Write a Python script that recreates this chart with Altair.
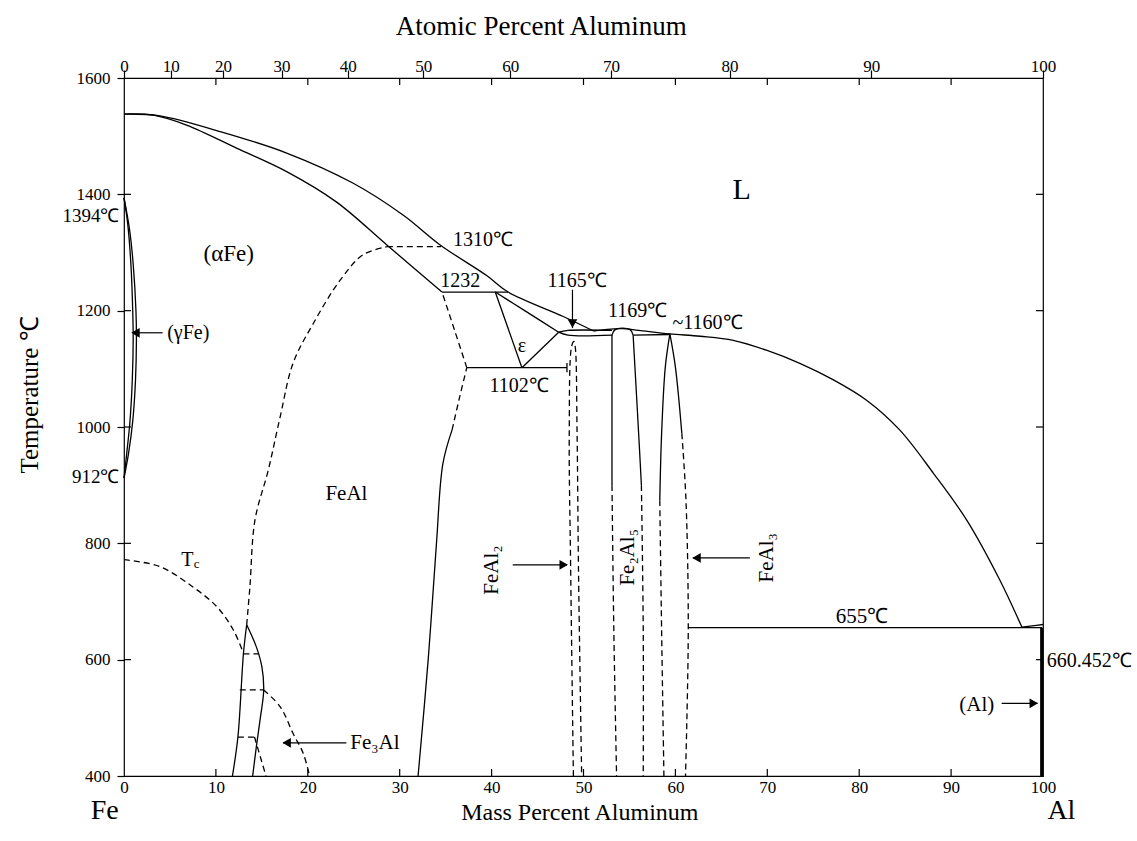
import altair as alt
import pandas as pd

FONT = "Liberation Serif"

# ---------------- axis ticks ----------------
mass_ticks = [0, 10, 20, 30, 40, 50, 60, 70, 80, 90, 100]
temp_ticks = [400, 600, 800, 1000, 1200, 1400, 1600]
inner_mass_ticks = [10, 20, 30, 40, 50, 60, 70, 80, 90]
inner_temp_ticks = [600, 800, 1000, 1200, 1400]
atomic_labels = ["0", "10", "20", "30", "40", "50", "60", "70", "80", "90", "100"]
atomic_at_mass = [0, 5.09, 10.78, 17.15, 24.36, 32.57, 42.02, 52.99, 65.9, 81.3, 100]

# ---------------- solid boundaries (mass % Al, temperature C) ----------------
liq1_m = [0, 3.9, 10.45, 17.7, 24.95, 30.4, 34.4, 39.5, 41.8, 47.8, 51.1]
liq1_T = [1538, 1535, 1508, 1471, 1419, 1364, 1313, 1260, 1232, 1190, 1165]
liq2_m = [51.1, 52.6, 54.2, 56.0, 59.4, 62.7, 66.3, 69.9, 73.6, 77.2, 80.8, 84.4, 88.1, 91.7, 95.3, 97.7]
liq2_T = [1165, 1168, 1169, 1166, 1160, 1156, 1149, 1132, 1109, 1081, 1046, 995, 920, 840, 737, 656]
liq3_m = [97.7, 98.8, 100]
liq3_T = [656, 658, 660.45]
sol_m = [0, 3.2, 6.8, 12.3, 17.7, 23.1, 28.6, 34.6]
sol_T = [1538, 1536, 1519, 1479, 1439, 1387, 1313, 1232]
iso1232_m = [34.6, 41.8]
iso1232_T = [1232, 1232]
epsl_m = [40.4, 43.3]
epsl_T = [1232, 1102]
epst_m = [40.4, 43.6, 47.3]
epst_T = [1232, 1200, 1163]
epsr_m = [43.3, 47.3]
epsr_T = [1102, 1163]
iso1102_m = [37.3, 48.2]
iso1102_T = [1102, 1102]
tick1102_m = [48.2, 48.2]
tick1102_T = [1094, 1110]
iso1165u_m = [47.3, 48.3, 53.1]
iso1165u_T = [1163, 1166, 1166]
iso1165l_m = [47.3, 48.3, 53.1]
iso1165l_T = [1163, 1158, 1158]
iso1160_m = [55.4, 59.4]
iso1160_T = [1158, 1159]
cap_m = [53.1, 53.4, 54.2, 55.1, 55.4]
cap_T = [1158, 1167, 1170, 1167, 1158]
f25l_m = [53.1, 53.1]
f25l_T = [1158, 900]
f25r_m = [55.4, 55.8, 56.1, 56.3]
f25r_T = [1158, 1046, 960, 900]
f3l_m = [59.4, 58.9, 58.5, 58.3]
f3l_T = [1160, 1103, 989, 874]
f3r_m = [59.4, 60.0, 60.7]
f3r_T = [1160, 1103, 989]
eut655_m = [61.4, 99.9]
eut655_T = [655, 655]
gout_m = [0, 0.6, 1.0, 1.3, 1.35, 1.25, 0.95, 0.5, 0]
gout_T = [1394, 1340, 1280, 1200, 1150, 1080, 1010, 955, 912]
gin_m = [0, 0.4, 0.75, 0.95, 1.0, 0.9, 0.65, 0.3, 0]
gin_T = [1394, 1350, 1280, 1200, 1150, 1080, 1010, 955, 912]
fealb_m = [32.0, 33.1, 34.0, 34.7, 35.7]
fealb_T = [400, 600, 800, 937, 995]
fe3all_m = [11.8, 12.4, 13.0, 13.35]
fe3all_T = [400, 468, 611, 660]
fe3alr_m = [13.35, 14.4, 15.0, 15.2, 14.8, 14.4, 14.0]
fe3alr_T = [660, 622, 588, 548, 496, 450, 400]
alsolvus_m = [99.85, 99.85]
alsolvus_T = [655, 400]

# ---------------- dashed boundaries ----------------
dome_m = [13.35, 13.7, 14.25, 15.7, 17.0, 18.4, 20.6, 23.5, 26.0, 28.6]
dome_T = [660, 725, 840, 926, 1018, 1110, 1178, 1252, 1296, 1310]
iso1310_m = [28.6, 34.5]
iso1310_T = [1310, 1310]
fealbd_m = [35.7, 36.5, 37.3]
fealbd_T = [995, 1050, 1102]
epsd_m = [37.3, 36.0, 34.6]
epsd_T = [1102, 1165, 1232]
tcl_m = [0, 3.9, 7.5, 10.1, 11.9, 13.0]
tcl_T = [772, 760, 725, 691, 651, 611]
tcr_m = [15.2, 17.0, 18.4, 19.5, 20.2]
tcr_T = [548, 519, 473, 439, 400]
d610_m = [13.0, 14.7]
d610_T = [610, 610]
d548_m = [12.6, 15.2]
d548_T = [548, 548]
d467_m = [12.4, 14.2]
d467_T = [467, 467]
dlow_m = [14.2, 15.45]
dlow_T = [467, 400]
feal2_m = [48.9, 48.6, 48.45, 48.7, 48.95, 49.1, 49.3, 49.45, 49.8]
feal2_T = [400, 760, 990, 1138, 1147, 1138, 990, 760, 400]
f25ld_m = [53.1, 53.3, 53.6]
f25ld_T = [900, 650, 400]
f25rd_m = [56.3, 56.5, 56.5]
f25rd_T = [900, 650, 400]
f3ld_m = [58.3, 58.5, 58.75]
f3ld_T = [874, 650, 400]
f3rd_m = [60.7, 61.15, 61.4, 61.1]
f3rd_T = [989, 874, 655, 400]

# ---------------- arrows ----------------
arr_gamma_m, arr_gamma_T = [1.0, 4.2], [1162, 1162]
arr_1165_m, arr_1165_T = [48.8, 48.8], [1236, 1170]
arr_feal2_m, arr_feal2_T = [42.3, 48.2], [763, 763]
arr_feal3_m, arr_feal3_T = [61.9, 68.1], [775, 775]
arr_fe3al_m, arr_fe3al_T = [17.3, 24.2], [457, 457]
arr_al_m, arr_al_T = [95.5, 99.4], [525, 525]
head_m = [1.25, 48.8, 47.85, 62.3, 17.7, 99.0]
head_T = [1162, 1178, 763, 775, 457, 525]
head_shape = ["triangle-left", "triangle-down", "triangle-right",
              "triangle-left", "triangle-left", "triangle-right"]

# ---------------- labels ----------------
c_txt = ["L", "(αFe)", "1232", "1165℃", "1169℃", "~1160℃", "1102℃", "ε", "FeAl",
         "T", "c", "Fe₃Al", "FeAl₂", "Fe₂Al₅", "FeAl₃", "655℃", "(Al)", "Fe", "Al",
         "Mass Percent Aluminum", "Atomic Percent Aluminum", "Temperature ℃"]
c_m = [67.2, 11.4, 36.6, 49.3, 55.9, 63.5, 43.0, 43.3, 24.2,
       6.9, 7.9, 27.3, 40.0, 54.8, 70.0, 80.3, 92.8, -2.1, 102.0,
       49.6, 45.4, -10.2]
c_T = [1407, 1297, 1251, 1251, 1199, 1178, 1070, 1139, 885,
       771, 764, 457, 754, 776, 775, 673, 522, 340, 340,
       336, 1688, 1055]
c_fs = [30, 23, 20, 20, 20, 20, 20, 20, 21,
        20, 13, 21, 21, 21, 21, 21, 21, 28, 28,
        24, 27, 25]
c_ang = [0, 0, 0, 0, 0, 0, 0, 0, 0,
         0, 0, 0, 270, 270, 270, 0, 0, 0, 0,
         0, 0, 270]
l_txt = ["(γFe)", "1310℃", "660.452℃"]
l_m = [4.7, 35.8, 100.4]
l_T = [1162, 1321, 598]
r_txt = ["1394℃", "912℃"]
r_m = [-0.5, -0.5]
r_T = [1363, 914]


def frame(segs):
    rows = []
    for name, (ms, ts) in segs.items():
        for i, (m, t) in enumerate(zip(ms, ts)):
            rows.append({"seg": name, "i": i, "m": m, "T": t})
    return pd.DataFrame(rows)


solid = {
    "liq1": (liq1_m, liq1_T), "liq2": (liq2_m, liq2_T), "liq3": (liq3_m, liq3_T),
    "sol": (sol_m, sol_T), "iso1232": (iso1232_m, iso1232_T),
    "epsl": (epsl_m, epsl_T), "epst": (epst_m, epst_T), "epsr": (epsr_m, epsr_T),
    "iso1102": (iso1102_m, iso1102_T), "tick1102": (tick1102_m, tick1102_T),
    "iso1165u": (iso1165u_m, iso1165u_T), "iso1165l": (iso1165l_m, iso1165l_T),
    "iso1160": (iso1160_m, iso1160_T), "cap": (cap_m, cap_T),
    "f25l": (f25l_m, f25l_T), "f25r": (f25r_m, f25r_T),
    "f3l": (f3l_m, f3l_T), "f3r": (f3r_m, f3r_T), "eut655": (eut655_m, eut655_T),
    "gout": (gout_m, gout_T), "gin": (gin_m, gin_T), "fealb": (fealb_m, fealb_T),
    "fe3all": (fe3all_m, fe3all_T), "fe3alr": (fe3alr_m, fe3alr_T),
}
dashed = {
    "dome": (dome_m, dome_T), "iso1310": (iso1310_m, iso1310_T),
    "fealbd": (fealbd_m, fealbd_T), "epsd": (epsd_m, epsd_T),
    "tcl": (tcl_m, tcl_T), "tcr": (tcr_m, tcr_T),
    "d610": (d610_m, d610_T), "d548": (d548_m, d548_T), "d467": (d467_m, d467_T),
    "dlow": (dlow_m, dlow_T), "feal2": (feal2_m, feal2_T),
    "f25ld": (f25ld_m, f25ld_T), "f25rd": (f25rd_m, f25rd_T),
    "f3ld": (f3ld_m, f3ld_T), "f3rd": (f3rd_m, f3rd_T),
}
thick = {"alsolvus": (alsolvus_m, alsolvus_T)}
arrows = {
    "a1": (arr_gamma_m, arr_gamma_T), "a2": (arr_1165_m, arr_1165_T),
    "a3": (arr_feal2_m, arr_feal2_T), "a4": (arr_feal3_m, arr_feal3_T),
    "a5": (arr_fe3al_m, arr_fe3al_T), "a6": (arr_al_m, arr_al_T),
}

xs = alt.Scale(domain=[0, 100], nice=False, zero=False)
ys = alt.Scale(domain=[400, 1600], nice=False, zero=False)
yaxis = alt.Axis(values=temp_ticks, format="d", tickSize=7, tickColor="black", tickWidth=1.2,
                 domain=False, grid=False, labelFont=FONT, labelFontSize=17,
                 labelColor="black", labelPadding=7, title=None)
xaxis_bottom = alt.Axis(values=mass_ticks, ticks=False, domain=False, grid=False,
                        labelFont=FONT, labelFontSize=17, labelColor="black",
                        labelPadding=3, labelFlush=False, title=None)
top_expr = "".join(f"datum.value == {p} ? '{l}' : " for p, l in zip(atomic_at_mass, atomic_labels)) + "''"
xaxis_top = alt.Axis(orient="top", values=atomic_at_mass, labelExpr=top_expr,
                     tickSize=8, tickColor="black", tickWidth=1.2, domain=False,
                     grid=False, labelFont=FONT, labelFontSize=17, labelColor="black",
                     labelPadding=-5, labelFlush=False, labelOverlap=False, title=None)

Y = alt.Y("T:Q", scale=ys, axis=yaxis)


def X(axis=None):
    return alt.X("m:Q", scale=xs, axis=axis)


solid_layer = alt.Chart(frame(solid)).mark_line(
    color="black", strokeWidth=1.3, interpolate="catmull-rom"
).encode(x=X(xaxis_bottom), y=Y, detail="seg:N", order="i:Q")

dashed_layer = alt.Chart(frame(dashed)).mark_line(
    color="black", strokeWidth=1.3, strokeDash=[6, 4], interpolate="catmull-rom"
).encode(x=X(), y=Y, detail="seg:N", order="i:Q")

thick_layer = alt.Chart(frame(thick)).mark_line(color="black", strokeWidth=3).encode(
    x=X(), y=Y, detail="seg:N", order="i:Q")

arrow_layer = alt.Chart(frame(arrows)).mark_line(color="black", strokeWidth=1.2).encode(
    x=X(), y=Y, detail="seg:N", order="i:Q")

heads = pd.DataFrame({"m": head_m, "T": head_T, "shape": head_shape})
head_layer = alt.Chart(heads).mark_point(filled=True, color="black", size=95, opacity=1).encode(
    x=X(), y=Y, shape=alt.Shape("shape:N", scale=None))

tc = pd.DataFrame({"txt": c_txt, "m": c_m, "T": c_T, "fs": c_fs, "ang": c_ang})
text_c = alt.Chart(tc).mark_text(font=FONT, color="black", align="center", baseline="middle").encode(
    x=X(), y=Y, text="txt:N", size=alt.Size("fs:Q", scale=None), angle=alt.Angle("ang:Q", scale=None))
tl = pd.DataFrame({"txt": l_txt, "m": l_m, "T": l_T})
text_l = alt.Chart(tl).mark_text(font=FONT, color="black", align="left", baseline="middle", fontSize=20).encode(
    x=X(), y=Y, text="txt:N")
tr = pd.DataFrame({"txt": r_txt, "m": r_m, "T": r_T})
text_r = alt.Chart(tr).mark_text(font=FONT, color="black", align="right", baseline="middle", fontSize=19).encode(
    x=X(), y=Y, text="txt:N")

bt = pd.DataFrame({"m": inner_mass_ticks})
tick_bottom = alt.Chart(bt).mark_rule(color="black", strokeWidth=1.2).encode(
    x=X(), y=alt.value(698), y2=alt.value(691))
tick_top = alt.Chart(bt).mark_rule(color="black", strokeWidth=1.2).encode(
    x=X(), y=alt.value(0), y2=alt.value(7))
lt = pd.DataFrame({"T": inner_temp_ticks})
tick_left = alt.Chart(lt).mark_rule(color="black", strokeWidth=1.2).encode(
    y=Y, x=alt.value(0), x2=alt.value(7))
tick_right = alt.Chart(lt).mark_rule(color="black", strokeWidth=1.2).encode(
    y=Y, x=alt.value(919), x2=alt.value(912))

top_axis_layer = alt.Chart(pd.DataFrame({"m": atomic_at_mass})).mark_point(opacity=0).encode(
    x=X(xaxis_top), y=alt.value(0))

chart = alt.layer(
    solid_layer, dashed_layer, thick_layer, arrow_layer, head_layer,
    text_c, text_l, text_r, tick_bottom, tick_top, tick_left, tick_right, top_axis_layer
).resolve_axis(x="independent").properties(
    width=919, height=698,
    autosize=alt.AutoSizeParams(type="none"),
    padding={"left": 124, "top": 78, "right": 94, "bottom": 65},
    background="white",
).configure_view(stroke="black", strokeWidth=1.2)

chart.save("out.html", embed_options={"renderer": "svg", "actions": False})
